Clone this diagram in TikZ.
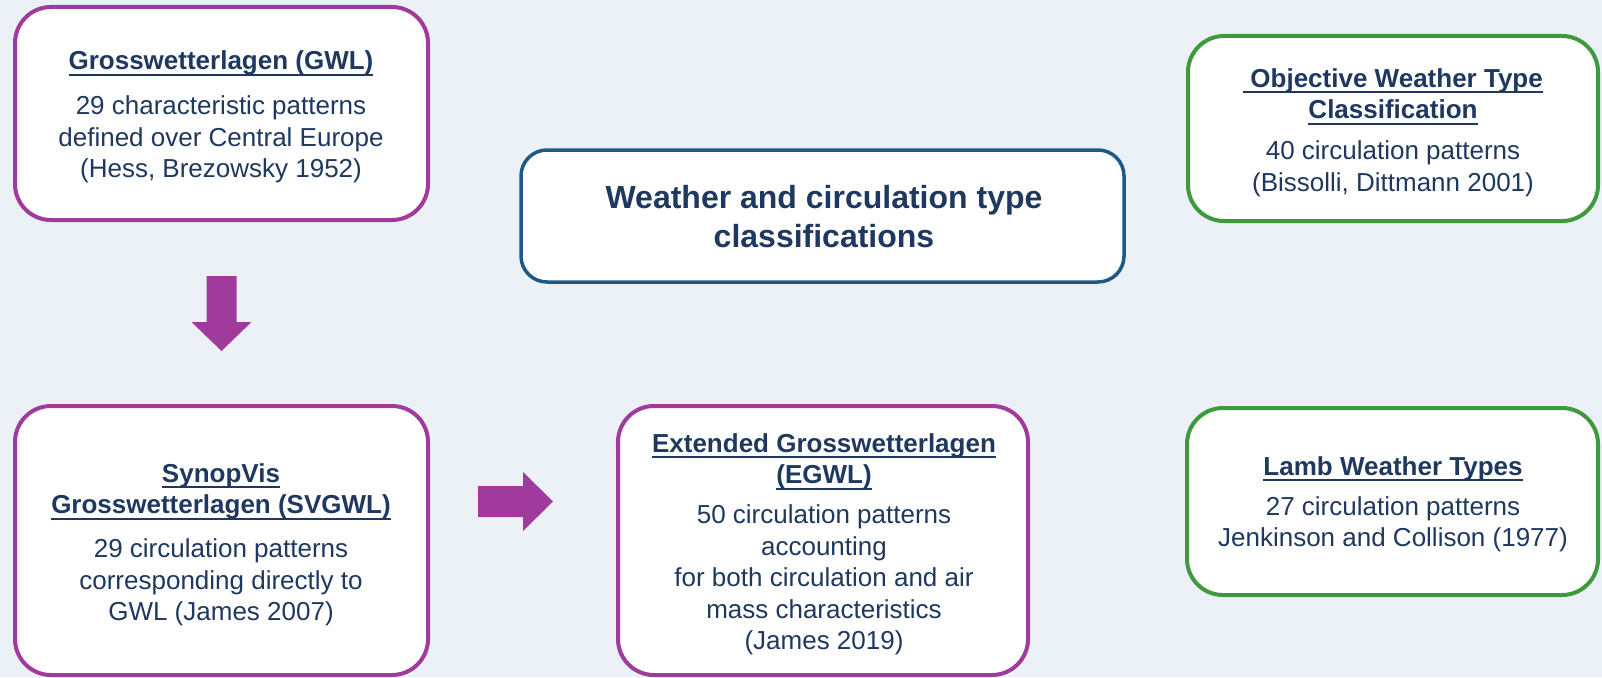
\documentclass[tikz,border=0pt]{standalone}
\usepackage{fontspec}
\setmainfont{Liberation Sans}
\definecolor{bgc}{RGB}{235,241,246}
\definecolor{purp}{RGB}{160,58,156}
\definecolor{grn}{RGB}{62,154,60}
\definecolor{blu}{RGB}{28,88,136}
\definecolor{txtc}{RGB}{31,56,96}
\newsavebox\ulbox
\newcommand\myul[1]{\sbox\ulbox{#1}\rlap{\rule[-6pt]{\wd\ulbox}{2pt}}\usebox\ulbox}
\tikzset{
  box/.style={draw, line width=4pt, fill=white, rounded corners=36pt, inner sep=0pt},
  txt/.style={anchor=base, inner sep=0pt, text=txtc, font=\fontsize{26}{31.5}\selectfont},
  bigtxt/.style={anchor=base, inner sep=0pt, text=txtc, font=\fontsize{32}{39}\selectfont\bfseries},
  blockarrow/.style={fill=purp, draw=none}
}
\begin{document}
\begin{tikzpicture}[x=1pt,y=-1pt]
\fill[bgc] (0,0) rectangle (1602,677);
\useasboundingbox (0,0) rectangle (1602,677);

% boxes
\node[box, draw=purp, minimum width=413, minimum height=213] (gwl) at (221.5,113.5) {};
\node[box, draw=blu, line width=3.5pt, rounded corners=26pt, minimum width=603, minimum height=132] (ctr) at (822.5,216) {};
\node[box, draw=grn, minimum width=410, minimum height=185] (obj) at (1393,128.5) {};
\node[box, draw=purp, minimum width=413, minimum height=269] (svg) at (221.5,540.5) {};
\node[box, draw=purp, minimum width=410, minimum height=269] (egwl) at (823,540.5) {};
\node[box, draw=grn, minimum width=411, minimum height=187] (lamb) at (1392.5,501.5) {};

% texts
\node[txt] (gwlt) at (221,70) {\begin{tabular}[t]{@{}c@{}}
\myul{\textbf{Grosswetterlagen (GWL)}}\\[13.5pt]
29 characteristic patterns\\
defined over Central Europe\\
(Hess, Brezowsky 1952)
\end{tabular}};

\node[bigtxt] (ctrt) at (824,208) {\begin{tabular}[t]{@{}c@{}}
Weather and circulation type\\
classifications
\end{tabular}};

\node[txt] (objt) at (1393,87) {\begin{tabular}[t]{@{}c@{}}
\myul{\textbf{\ Objective Weather Type}}\\
\myul{\textbf{Classification}}\\[9.5pt]
40 circulation patterns\\
(Bissolli, Dittmann 2001)
\end{tabular}};

\node[txt] (svgt) at (221,482) {\begin{tabular}[t]{@{}c@{}}
\myul{\textbf{SynopVis}}\\
\myul{\textbf{Grosswetterlagen (SVGWL)}}\\[12.5pt]
29 circulation patterns\\
corresponding directly to\\
GWL (James 2007)
\end{tabular}};

\node[txt] (egwlt) at (824,452) {\begin{tabular}[t]{@{}c@{}}
\myul{\textbf{Extended Grosswetterlagen}}\\
\myul{\textbf{(EGWL)}}\\[8.5pt]
50 circulation patterns\\
accounting\\
for both circulation and air\\
mass characteristics\\
(James 2019)
\end{tabular}};

\node[txt] (lambt) at (1393,475) {\begin{tabular}[t]{@{}c@{}}
\myul{\textbf{Lamb Weather Types}}\\[8.5pt]
27 circulation patterns\\
Jenkinson and Collison (1977)
\end{tabular}};

% block arrows
\coordinate (a1) at ([yshift=-54pt]gwl.south);
\fill[blockarrow] (a1) ++(-15,0) -- ++(30,0) -- ++(0,46) -- ++(15,0) -- ++(-30,29) -- ++(-30,-29) -- ++(15,0) -- cycle;
\coordinate (a2) at (478,501.5);
\fill[blockarrow] (a2) ++(0,-15.5) -- ++(45,0) -- ++(0,-14) -- ++(30,29.5) -- ++(-30,29.5) -- ++(0,-14) -- ++(-45,0) -- cycle;
\end{tikzpicture}
\end{document}
